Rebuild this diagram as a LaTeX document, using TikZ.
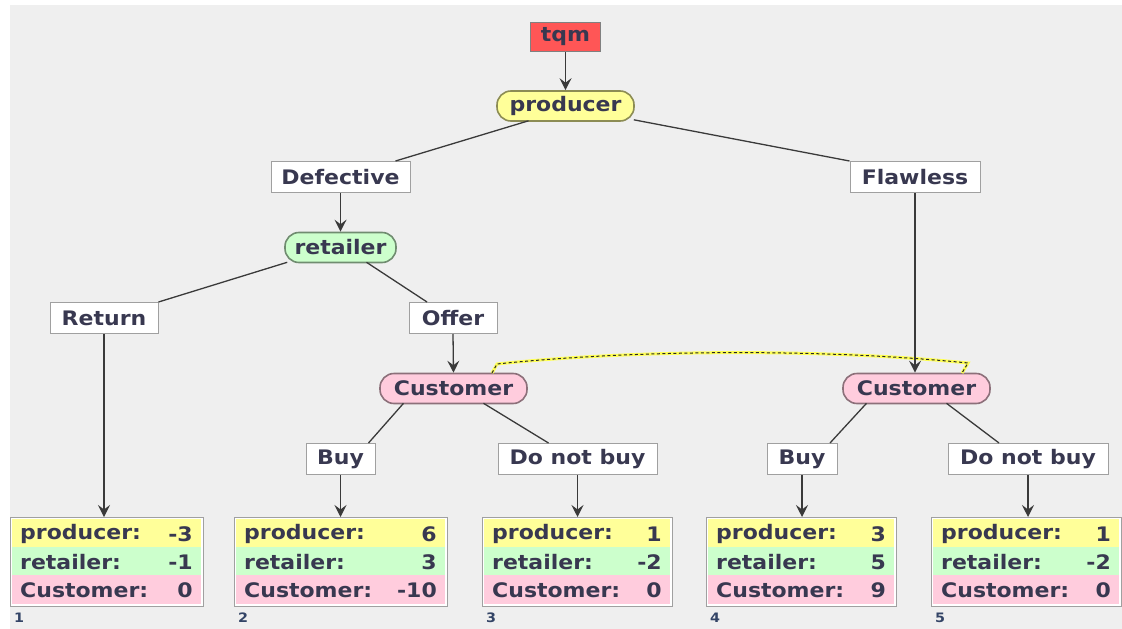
\documentclass[tikz,border=0pt]{standalone}
\usepackage{fontspec}
\setmainfont{DejaVu Sans}[FakeStretch=1.1]
\usetikzlibrary{arrows.meta}
\definecolor{bg}{HTML}{EFEFEF}
\definecolor{txt}{HTML}{383850}
\definecolor{boxgray}{HTML}{A0A0A0}
\definecolor{edgec}{HTML}{3A3A3A}
\definecolor{tqmred}{HTML}{FF5656}
\definecolor{pyellow}{HTML}{FFFF99}
\definecolor{pgreen}{HTML}{CCFFCC}
\definecolor{ppink}{HTML}{FFCCDD}
\definecolor{numc}{HTML}{334466}
\definecolor{dotyel}{HTML}{FFFF55}
\tikzset{
  every node/.style={font=\fontsize{20}{24}\selectfont\bfseries, text=txt, inner sep=0pt},
  lbl/.style={rectangle, fill=white, draw=boxgray, line width=1pt, minimum height=31, minimum width=#1},
  pill/.style={rectangle, rounded corners=14pt, fill=#1, draw=#1!55!black, line width=1.6pt, minimum height=30},
  root/.style={rectangle, fill=tqmred, draw=gray, line width=1.5pt, minimum height=29, minimum width=70},
  conn/.style={draw=edgec, line width=1.3pt},
  arr/.style={conn, -{Stealth[length=12pt,width=12pt,inset=4.5pt]}},
  pbox/.style={rectangle, fill=white, draw=boxgray, line width=1pt},
  num/.style={font=\fontsize{13}{15}\selectfont\bfseries, text=numc, anchor=west},
  infoline/.style={draw=dotyel, line width=3pt},
  infodash/.style={draw=black!85, line width=1pt, dash pattern=on 3pt off 2.5pt},
}
\newcommand\payoff[7]{%
  \node[pbox, anchor=north west, minimum width={#3-#2}, minimum height=89] (#1) at (#2,517) {};
  \fill[pyellow] (#2+2,519) rectangle (#3-2,547);
  \fill[pgreen] (#2+2,547) rectangle (#3-2,575);
  \fill[ppink] (#2+2,575) rectangle (#3-2,604);
  \node[anchor=west] (#1pa) at (#2+10,534) {producer:};
  \node[anchor=east] (#1pv) at (#3-10,534) {#4};
  \node[anchor=west] (#1ra) at (#2+10,562) {retailer:};
  \node[anchor=east] (#1rv) at (#3-10,562) {#5};
  \node[anchor=west] (#1ca) at (#2+10,590) {Customer:};
  \node[anchor=east] (#1cv) at (#3-10,590) {#6};
  \node[num] (#1n) at (#2+4,618) {#7};
}
\begin{document}
\begin{tikzpicture}[x=1pt,y=-1pt]
\useasboundingbox (0,0) rectangle (1122,629);
\fill[white] (0,0) rectangle (1122,629);
\fill[bg] (10,5) rectangle (1122,629);

% nodes
\node[root] (tqm) at (565.5,37) {tqm};
\node[pill=pyellow, minimum width=137] (prod) at (565.5,106) {producer};
\node[lbl=139] (def) at (340.5,177) {Defective};
\node[lbl=130] (fla) at (915,177) {Flawless};
\node[pill=pgreen, minimum width=111] (ret) at (340.5,247.5) {retailer};
\node[lbl=108] (retn) at (104,318) {Return};
\node[lbl=88] (off) at (453,318) {Offer};
\node[pill=ppink, minimum width=147] (cA) at (453.5,388.5) {Customer};
\node[pill=ppink, minimum width=147] (cB) at (916.5,388.5) {Customer};
\node[lbl=69] (buyA) at (340.5,459) {Buy};
\node[lbl=159] (dnbA) at (577.5,459) {Do not buy};
\node[lbl=70] (buyB) at (802,459) {Buy};
\node[lbl=160] (dnbB) at (1028,459) {Do not buy};

% payoff boxes
\payoff{pA}{10}{203}{-3}{-1}{0}{1}
\payoff{pB}{234}{447}{6}{3}{-10}{2}
\payoff{pC}{482}{672}{1}{-2}{0}{3}
\payoff{pD}{706}{896}{3}{5}{9}{4}
\payoff{pE}{931}{1121}{1}{-2}{0}{5}

% information set (dotted)
\coordinate (iA1) at (492,373);
\coordinate (iA2) at (497,364);
\coordinate (iB2) at (968,363);
\coordinate (iB1) at (962,373);
\draw[infoline] (iA1) -- (iA2) .. controls (640,349) and (830,349) .. (iB2) -- (iB1);
\draw[infodash] (iA1) -- (iA2) .. controls (640,349) and (830,349) .. (iB2) -- (iB1);

% connectors
\draw[arr] (tqm.south) -- (prod.north);
\draw[conn] ([xshift=-37pt,yshift=1pt]prod.south) -- ([xshift=55pt]def.north);
\draw[conn] ([xshift=-1pt,yshift=2pt]prod.south east) -- (fla.north west);
\draw[arr] (def.south) -- (ret.north);
\draw[conn] ([xshift=3pt,yshift=1pt]ret.south west) -- (retn.north east);
\draw[conn] ([xshift=26pt,yshift=1pt]ret.south) -- ([xshift=-26pt]off.north);
\draw[arr] (off.south) -- (cA.north);
\draw[arr] (fla.south) -- (fla.south |- cB.north);
\draw[conn] ([xshift=-50pt,yshift=1pt]cA.south) -- ([xshift=28pt]buyA.north);
\draw[conn] ([xshift=30pt,yshift=1pt]cA.south) -- ([xshift=-29pt]dnbA.north);
\draw[conn] ([xshift=-50pt,yshift=1pt]cB.south) -- ([xshift=28pt]buyB.north);
\draw[conn] ([xshift=30pt,yshift=1pt]cB.south) -- ([xshift=-29pt]dnbB.north);
\draw[arr] (retn.south) -- (retn.south |- pA.north);
\draw[arr] (buyA.south) -- (buyA.south |- pB.north);
\draw[arr] (dnbA.south) -- (dnbA.south |- pC.north);
\draw[arr] (buyB.south) -- (buyB.south |- pD.north);
\draw[arr] (dnbB.south) -- (dnbB.south |- pE.north);
\end{tikzpicture}
\end{document}
